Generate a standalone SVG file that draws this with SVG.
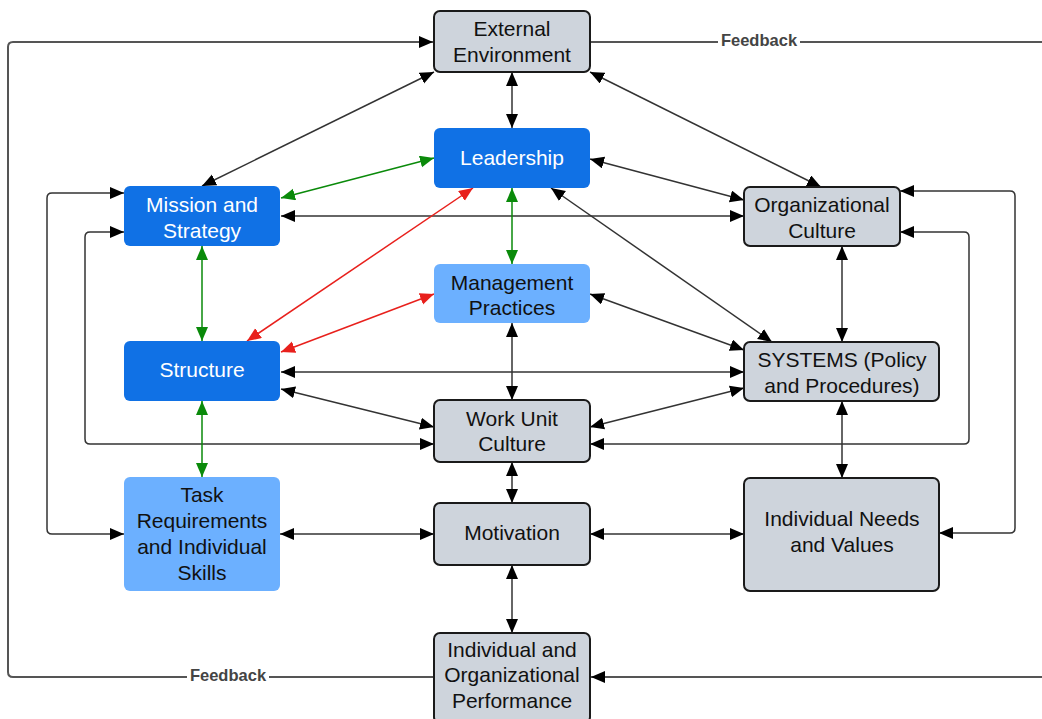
<svg xmlns="http://www.w3.org/2000/svg" width="1042" height="719" viewBox="0 0 1042 719">
<style>
.n rect{stroke-width:0}
.g rect{fill:#ced4dc;stroke:#1a1a1a;stroke-width:2}
.d rect{fill:#1071e5}
.l rect{fill:#6cb0ff}
text{font-family:"Liberation Sans",Arial,sans-serif;font-size:21px;text-anchor:middle}
.d text{fill:#ffffff}
.g text,.l text{fill:#111111}
.c path{fill:none;stroke:#333;stroke-width:1.5}
.c path.k{marker-start:url(#ak);marker-end:url(#ak)}
.c path.gr{stroke:#0a8a0a;marker-start:url(#ag);marker-end:url(#ag)}
.c path.rd{stroke:#e8201c;marker-start:url(#ar);marker-end:url(#ar)}
.c path.fb{stroke:#555;stroke-width:2}
.fl{font-size:16.5px;font-weight:bold;fill:#444}
</style>
<defs>
<marker id="ak" markerUnits="userSpaceOnUse" markerWidth="15" markerHeight="13" refX="14" refY="6" orient="auto-start-reverse"><path d="M0,0 L14,6 L0,12 z" fill="#000"/></marker>
<marker id="ag" markerUnits="userSpaceOnUse" markerWidth="15" markerHeight="13" refX="14" refY="6" orient="auto-start-reverse"><path d="M0,0 L14,6 L0,12 z" fill="#0a8a0a"/></marker>
<marker id="ar" markerUnits="userSpaceOnUse" markerWidth="15" markerHeight="13" refX="14" refY="6" orient="auto-start-reverse"><path d="M0,0 L14,6 L0,12 z" fill="#e8201c"/></marker>
<marker id="fk" markerUnits="userSpaceOnUse" markerWidth="15" markerHeight="13" refX="14" refY="6" orient="auto"><path d="M0,0 L14,6 L0,12 z" fill="#000"/></marker>
</defs>
<rect width="1042" height="719" fill="#ffffff"/>
<g id="connectors" class="c">
<path class="fb" d="M434,677 H13 Q8,677 8,672 V47 Q8,42 13,42 H433" marker-end="url(#fk)"/>
<path class="fb" d="M590,42 H1042"/>
<path class="fb" d="M1042,677 H591" marker-end="url(#fk)"/>
<path class="k" d="M124,193 H52 Q47,193 47,198 V529 Q47,534 52,534 H124"/>
<path class="k" d="M124,232 H90 Q85,232 85,237 V439 Q85,444 90,444 H434"/>
<path class="k" d="M900,191 H1010 Q1015,191 1015,196 V528 Q1015,533 1010,533 H939"/>
<path class="k" d="M900,232 H964 Q969,232 969,237 V439 Q969,444 964,444 H590"/>
<path class="k" d="M434,72 L202,186"/>
<path class="k" d="M512,72 V128"/>
<path class="k" d="M590,72 L821,187"/>
<path class="gr" d="M434,158 L281,198"/>
<path class="k" d="M590,159 L744,200"/>
<path class="k" d="M281,216 H744"/>
<path class="gr" d="M512,188 V264"/>
<path class="gr" d="M202,246 V341"/>
<path class="rd" d="M473,188 L247,341"/>
<path class="rd" d="M434,294 L281,352"/>
<path class="k" d="M551,188 L772,342"/>
<path class="k" d="M590,294 L744,350"/>
<path class="k" d="M281,372 H744"/>
<path class="k" d="M281,389 L434,427"/>
<path class="k" d="M744,388 L590,427"/>
<path class="k" d="M512,323 V400"/>
<path class="k" d="M842,246 V342"/>
<path class="k" d="M842,401 V478"/>
<path class="gr" d="M202,401 V477"/>
<path class="k" d="M512,462 V503"/>
<path class="k" d="M280,534 H434"/>
<path class="k" d="M590,534 H744"/>
<path class="k" d="M512,565 V633"/>
<rect x="718" y="32" width="82" height="18" fill="#fff"/>
<text class="fl" x="759" y="46">Feedback</text>
<rect x="187" y="667" width="82" height="18" fill="#fff"/>
<text class="fl" x="228" y="681">Feedback</text>
</g>
<g id="external" class="g"><rect x="434" y="11" width="156" height="61" rx="6"/><text x="512" y="36">External</text><text x="512" y="62">Environment</text></g>
<g id="leadership" class="n d"><rect x="434" y="128" width="156" height="60" rx="6"/><text x="512" y="165">Leadership</text></g>
<g id="mission" class="n d"><rect x="124" y="186" width="156" height="60" rx="6"/><text x="202" y="212">Mission and</text><text x="202" y="238">Strategy</text></g>
<g id="orgculture" class="g"><rect x="744" y="187" width="156" height="59" rx="6"/><text x="822" y="212">Organizational</text><text x="822" y="238">Culture</text></g>
<g id="management" class="n l"><rect x="434" y="264" width="156" height="59" rx="6"/><text x="512" y="290">Management</text><text x="512" y="315">Practices</text></g>
<g id="structure" class="n d"><rect x="124" y="341" width="156" height="60" rx="6"/><text x="202" y="377">Structure</text></g>
<g id="systems" class="g"><rect x="744" y="342" width="195" height="59" rx="6"/><text x="842" y="367">SYSTEMS (Policy</text><text x="842" y="393">and Procedures)</text></g>
<g id="workunit" class="g"><rect x="434" y="400" width="156" height="62" rx="6"/><text x="512" y="426">Work Unit</text><text x="512" y="451">Culture</text></g>
<g id="task" class="n l"><rect x="124" y="477" width="156" height="114" rx="6"/><text x="202" y="502">Task</text><text x="202" y="528">Requirements</text><text x="202" y="554">and Individual</text><text x="202" y="580">Skills</text></g>
<g id="motivation" class="g"><rect x="434" y="503" width="156" height="62" rx="6"/><text x="512" y="540">Motivation</text></g>
<g id="needs" class="g"><rect x="744" y="478" width="195" height="113" rx="6"/><text x="842" y="526">Individual Needs</text><text x="842" y="552">and Values</text></g>
<g id="performance" class="g"><rect x="434" y="633" width="156" height="90" rx="6"/><text x="512" y="657">Individual and</text><text x="512" y="682">Organizational</text><text x="512" y="708">Performance</text></g>
</svg>
